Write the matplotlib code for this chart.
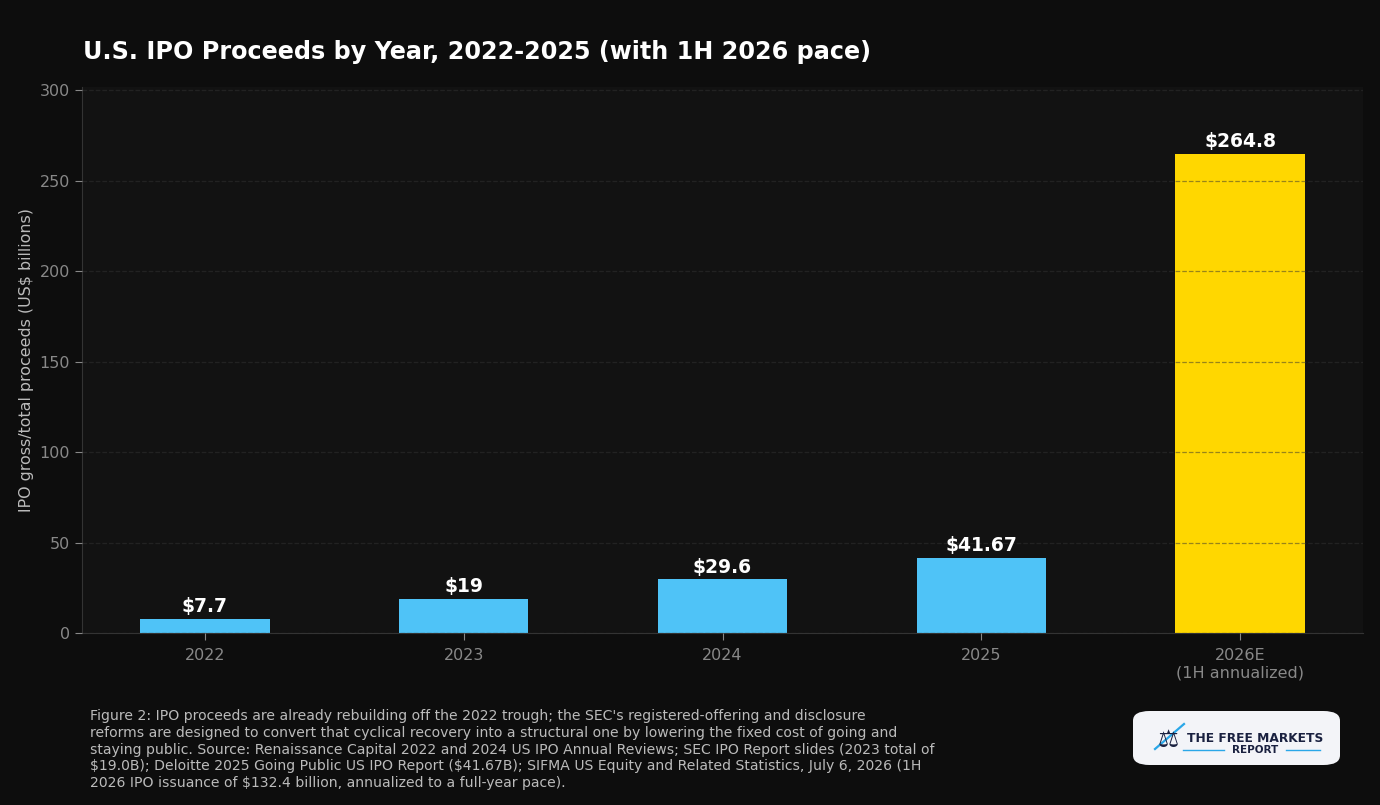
import matplotlib
matplotlib.use("Agg")
import matplotlib.pyplot as plt
from matplotlib.patches import FancyBboxPatch
from matplotlib.lines import Line2D

YEARS = ["2022", "2023", "2024", "2025", "2026E\n(1H annualized)"]
PROCEEDS = [7.7, 19, 29.6, 41.67, 264.8]
LABELS = ["$7.7", "$19", "$29.6", "$41.67", "$264.8"]
IS_ESTIMATE = [False, False, False, False, True]

TITLE = "U.S. IPO Proceeds by Year, 2022-2025 (with 1H 2026 pace)"
YLABEL = "IPO gross/total proceeds (US$ billions)"
CAPTION = (
    "Figure 2: IPO proceeds are already rebuilding off the 2022 trough; the SEC's registered-offering and disclosure\n"
    "reforms are designed to convert that cyclical recovery into a structural one by lowering the fixed cost of going and\n"
    "staying public. Source: Renaissance Capital 2022 and 2024 US IPO Annual Reviews; SEC IPO Report slides (2023 total of\n"
    "$19.0B); Deloitte 2025 Going Public US IPO Report ($41.67B); SIFMA US Equity and Related Statistics, July 6, 2026 (1H\n"
    "2026 IPO issuance of $132.4 billion, annualized to a full-year pace)."
)

BG = "#0d0d0d"
AX_BG = "#121212"
BLUE = "#4fc3f7"
GOLD = "#ffd700"

fig = plt.figure(figsize=(13.8, 8.05), dpi=100, facecolor=BG)
ax = fig.add_axes([82 / 1380, 1 - 633 / 805, (1363 - 82) / 1380, (633 - 87) / 805])
ax.set_facecolor(AX_BG)

x = list(range(len(YEARS)))
colors = [GOLD if e else BLUE for e in IS_ESTIMATE]
bars = ax.bar(x, PROCEEDS, width=0.5, color=colors, zorder=1)

for b, lab in zip(bars, LABELS):
    ax.text(b.get_x() + b.get_width() / 2, b.get_height() + 1.5, lab,
            ha="center", va="bottom", color="white", fontsize=13.5,
            fontweight="bold", zorder=4, parse_math=False)

ax.set_xticks(x)
ax.set_xticklabels(YEARS)
ax.set_ylim(0, max(PROCEEDS) * 1.14)
ax.set_yticks([0, 50, 100, 150, 200, 250, 300])
ax.tick_params(colors="#888888", labelsize=11.5, length=5)
ax.tick_params(axis="x", colors="#888888", pad=6)
ax.set_ylabel(YLABEL, color="#bbbbbb", fontsize=11.4, labelpad=4)

ax.set_axisbelow(False)
ax.grid(axis="y", color="#333333", linestyle="--", linewidth=0.9, alpha=0.5, zorder=3)

for side in ["top", "right"]:
    ax.spines[side].set_visible(False)
for side in ["left", "bottom"]:
    ax.spines[side].set_color("#333333")

fig.text(83 / 1380, 1 - 52 / 805, TITLE, color="white", fontsize=17.2,
         fontweight="bold", ha="left", va="center")

fig.text(90 / 1380, 1 - 709 / 805, CAPTION, color="#bbbbbb", fontsize=10.05,
         ha="left", va="top", linespacing=1.25, parse_math=False)

# logo badge
box = FancyBboxPatch((1133 / 1380, 1 - 765 / 805), 207 / 1380, 54 / 805,
                     boxstyle="round,pad=0,rounding_size=0.012",
                     transform=fig.transFigure, facecolor="#f3f4f8",
                     edgecolor="none")
fig.patches.append(box)
fig.text(1255 / 1380, 1 - 738 / 805, "THE FREE MARKETS", color="#1a2140",
         fontsize=8.8, fontweight="bold", ha="center", va="center")
fig.text(1255 / 1380, 1 - 750 / 805, "REPORT", color="#1a2140",
         fontsize=7.5, fontweight="bold", ha="center", va="center")
for x0, x1 in [(1183, 1224), (1286, 1320)]:
    fig.add_artist(Line2D([x0 / 1380, x1 / 1380], [1 - 750 / 805] * 2,
                          color="#2aa7e8", linewidth=1, transform=fig.transFigure))
fig.text(1168 / 1380, 1 - 740 / 805, "\u2696", color="#1a2140", fontsize=17,
         ha="center", va="center")
fig.add_artist(Line2D([1155 / 1380, 1184 / 1380], [1 - 749 / 805, 1 - 724 / 805],
                      color="#2aa7e8", linewidth=1.6, transform=fig.transFigure))

fig.savefig("out.png", dpi=100, facecolor=BG)
